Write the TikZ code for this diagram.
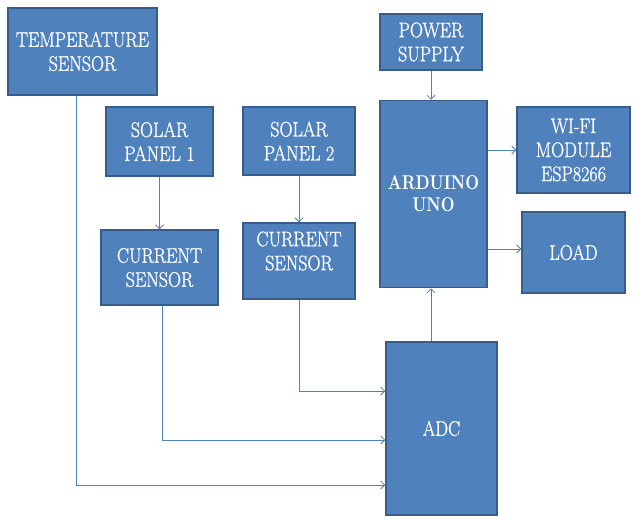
\documentclass[tikz,border=0pt]{standalone}
\usepackage{fontspec}
\setmainfont{Latin Modern Roman}
\newfontfamily\labfont[FakeBold=1,FakeStretch=0.86]{Latin Modern Roman}
\newfontfamily\ardfont[FakeStretch=0.8]{lmroman10-bold.otf}
\usetikzlibrary{arrows.meta}
\definecolor{boxfill}{HTML}{4F81BD}
\definecolor{boxline}{HTML}{385D8A}
\definecolor{wire}{HTML}{4F81BD}
\begin{document}
\begin{tikzpicture}[x=1pt,y=-1pt,
  blk/.style={draw=boxline,line width=1.5pt,fill=boxfill,text=white,align=center,
    font=\labfont\fontsize{21}{24}\selectfont,inner sep=0pt},
  txt/.style={text=white,align=center,font=\labfont\fontsize{21}{24}\selectfont,inner sep=0pt},
  arr/.style={draw=wire,line width=0.8pt,-{Straight Barb[length=4pt,width=8pt]}}]
\useasboundingbox (0,0) rectangle (640,517);
\node[blk,minimum width=149,minimum height=87] (temp) at (82.5,51.5) {TEMPERATURE\\SENSOR};
\node[blk,minimum width=107,minimum height=69] (sp1) at (159.5,141.5) {SOLAR\\PANEL 1};
\node[blk,minimum width=112,minimum height=68] (sp2) at (299,141) {SOLAR\\PANEL 2};
\node[blk,minimum width=117,minimum height=75] (cs1) at (159.5,267.5) {CURRENT\\SENSOR};
\node[blk,minimum width=112,minimum height=76] (cs2) at (299,261) {};
\node[txt] (cs2t) at ([yshift=10]cs2.center) {CURRENT\\SENSOR};
\node[blk,minimum width=102,minimum height=56] (ps) at (431,42) {POWER\\SUPPLY};
\node[blk,minimum width=107,minimum height=187,font=\ardfont\fontsize{20}{22}\selectfont] (ard) at (433.5,194) {ARDUINO\\UNO};
\node[blk,minimum width=113,minimum height=86] (wifi) at (573.5,150) {WI-FI\\MODULE\\ESP8266};
\node[blk,minimum width=103,minimum height=81] (load) at (573.5,252.5) {LOAD};
\node[blk,minimum width=111,minimum height=173] (adc) at (441.5,428.5) {ADC};
\coordinate (tb) at ([xshift=-6.5]temp.south);
\coordinate (c1b) at ([xshift=2.5]cs1.south);
\coordinate (ab) at ([xshift=-10.5]adc.north);
\draw[arr] (tb) |- (adc.west |- 0,485);
\draw[arr] (c1b) |- (adc.west |- 0,440);
\draw[arr] (cs2.south) |- (adc.west |- 0,391);
\draw[arr] (sp1.south) -- (cs1.north);
\draw[arr] (sp2.south) -- (cs2.north);
\draw[arr] (ps.south) -- (ps.south |- ard.north);
\draw[arr] (ab) -- (ab |- ard.south);
\draw[arr] (ard.east |- 0,150) -- (wifi.west |- 0,150);
\draw[arr] (ard.east |- 0,249) -- (load.west |- 0,249);
\end{tikzpicture}
\end{document}
